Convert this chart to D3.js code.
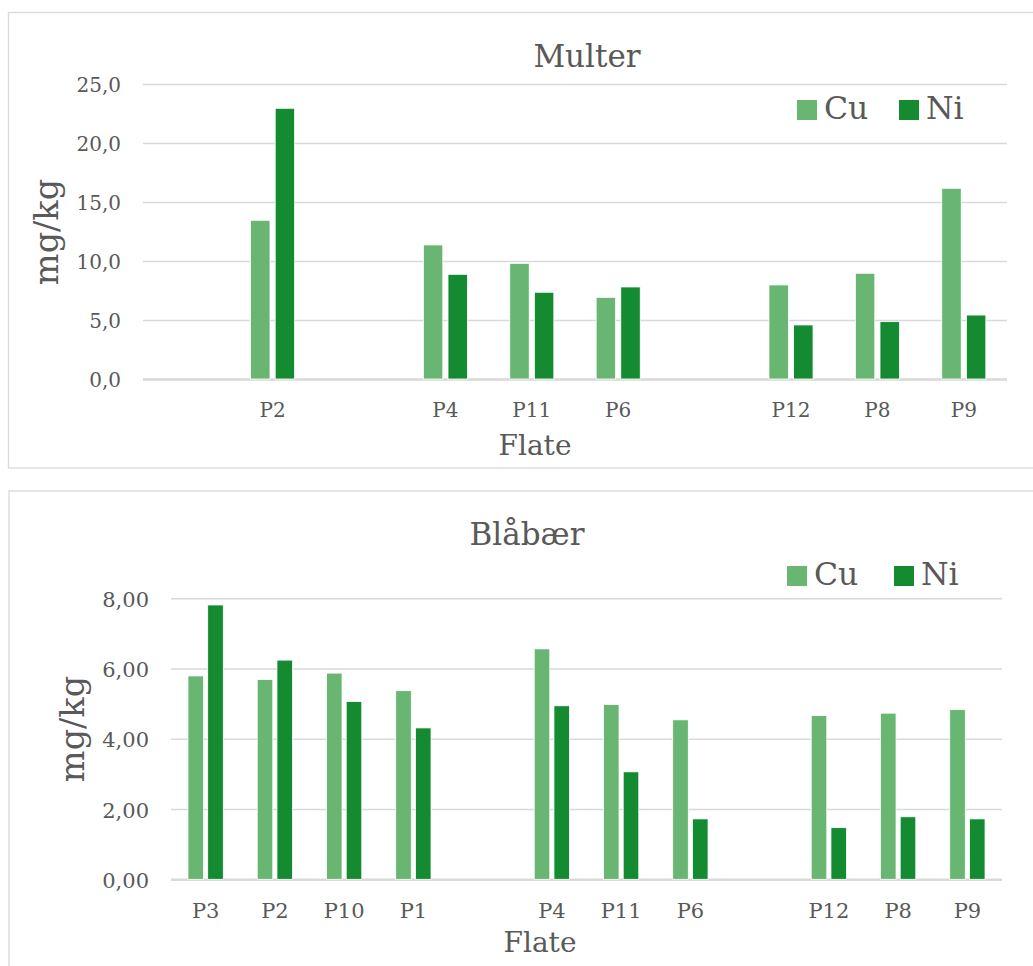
<!DOCTYPE html>
<html>
<head>
<meta charset="utf-8">
<script src="https://cdn.jsdelivr.net/npm/d3@7"></script>
<style>
  body { margin: 0; background: #fff; }
  text { font-family: "DejaVu Serif", Georgia, serif; fill: #595959; }
</style>
</head>
<body>
<div id="chart"></div>
<script>
// Multer (empty strings are the blank gap categories)
var multerCategories = ["", "P2", "", "P4", "P11", "P6", "", "P12", "P8", "P9"];
var multerCu = [null, 13.45, null, 11.36, 9.80, 6.92, null, 7.97, 8.96, 16.16];
var multerNi = [null, 22.94, null, 8.87, 7.35, 7.80, null, 4.58, 4.86, 5.42];
var multerTicks = [0, 5, 10, 15, 20, 25];

// Blåbær
var blabaerCategories = ["P3", "P2", "P10", "P1", "", "P4", "P11", "P6", "", "P12", "P8", "P9"];
var blabaerCu = [5.79, 5.69, 5.87, 5.37, null, 6.56, 4.98, 4.54, null, 4.66, 4.73, 4.83];
var blabaerNi = [7.81, 6.24, 5.06, 4.31, null, 4.94, 3.06, 1.72, null, 1.47, 1.78, 1.72];
var blabaerTicks = [0, 2, 4, 6, 8];

var seriesNames = ["Cu", "Ni"];
var colors = ["#69b673", "#148a31"];

var nb = d3.formatLocale({decimal: ",", thousands: " ", grouping: [3], currency: ["", " kr"]});

var svg = d3.select("#chart").append("svg")
    .attr("width", 1033)
    .attr("height", 966);

function drawChart(opt) {
    var g = svg.append("g");

    // outer frame
    g.append("rect")
        .attr("x", opt.frame[0]).attr("y", opt.frame[1])
        .attr("width", opt.frame[2]).attr("height", opt.frame[3])
        .attr("fill", "none").attr("stroke", "#d9d9d9").attr("stroke-width", 1.3);

    var x = d3.scaleBand().domain(d3.range(opt.categories.length)).range([opt.left, opt.right]);
    var y = d3.scaleLinear().domain([0, opt.yMax]).range([opt.bottom, opt.top]);

    // gridlines + y labels
    var yAxis = g.append("g")
        .attr("transform", "translate(" + opt.left + ",0)")
        .call(d3.axisLeft(y).tickValues(opt.ticks).tickSize(-(opt.right - opt.left))
            .tickPadding(22).tickFormat(nb.format(opt.fmt)));
    yAxis.select(".domain").remove();
    yAxis.selectAll(".tick line").attr("stroke", "#d9d9d9").attr("stroke-width", 1.5);
    yAxis.selectAll(".tick text").attr("font-size", opt.tickFont).attr("fill", "#595959")
        .attr("font-family", "DejaVu Serif").attr("dy", "0.38em");
    yAxis.selectAll(".tick").filter(function(d) { return d === 0; }).select("line")
        .attr("stroke-width", 2.5);

    // bars
    var bw = x.bandwidth() * 0.225, gap = x.bandwidth() * 0.06;
    [opt.cu, opt.ni].forEach(function(vals, si) {
        g.append("g").selectAll("rect")
            .data(vals.map(function(v, i) { return {i: i, v: v}; }).filter(function(d) { return d.v != null; }))
            .enter().append("rect")
            .attr("x", function(d) {
                var c = x(d.i) + x.bandwidth() / 2;
                return si === 0 ? c - gap / 2 - bw : c + gap / 2;
            })
            .attr("y", function(d) { return y(d.v); })
            .attr("width", bw)
            .attr("height", function(d) { return y(0) - y(d.v); })
            .attr("fill", colors[si])
            .attr("stroke", "#ffffff").attr("stroke-width", 0.8);
    });

    // x labels
    var xAxis = g.append("g")
        .attr("transform", "translate(0," + opt.bottom + ")")
        .call(d3.axisBottom(x).tickSize(0).tickPadding(24)
            .tickFormat(function(i) { return opt.categories[i]; }));
    xAxis.select(".domain").remove();
    xAxis.selectAll(".tick text").attr("font-size", opt.tickFont).attr("fill", "#595959")
        .attr("font-family", "DejaVu Serif");

    // titles
    g.append("text").attr("x", opt.titlePos[0]).attr("y", opt.titlePos[1])
        .attr("text-anchor", "middle").attr("font-size", 31).text(opt.title);
    g.append("text").attr("x", opt.xTitlePos[0]).attr("y", opt.xTitlePos[1])
        .attr("text-anchor", "middle").attr("font-size", 28).text("Flate");
    g.append("text")
        .attr("transform", "translate(" + opt.yTitlePos[0] + "," + opt.yTitlePos[1] + ") rotate(-90)")
        .attr("text-anchor", "middle").attr("font-size", 33.5).text("mg/kg");

    // legend
    var leg = g.append("g").selectAll("g").data(seriesNames).enter().append("g")
        .attr("transform", function(d, i) { return "translate(" + opt.legend[i] + "," + opt.legendY + ")"; });
    leg.append("rect").attr("width", 20).attr("height", 20)
        .attr("fill", function(d, i) { return colors[i]; });
    leg.append("text").attr("x", 27).attr("y", 19).attr("font-size", 31.5).text(function(d) { return d; });
}

drawChart({
    categories: multerCategories, cu: multerCu, ni: multerNi, ticks: multerTicks,
    yMax: 25, fmt: ".1f", title: "Multer", tickFont: 20,
    frame: [8.5, 12.5, 1040, 455.5],
    left: 143, right: 1007, top: 84, bottom: 379,
    titlePos: [587, 67], xTitlePos: [535, 455], yTitlePos: [58, 232],
    legend: [797, 899], legendY: 100
});

drawChart({
    categories: blabaerCategories, cu: blabaerCu, ni: blabaerNi, ticks: blabaerTicks,
    yMax: 8, fmt: ".2f", title: "Blåbær", tickFont: 21,
    frame: [9, 491, 1040, 500],
    left: 171, right: 1002, top: 598.3, bottom: 879.3,
    titlePos: [527, 545], xTitlePos: [540, 952], yTitlePos: [84, 729],
    legend: [787, 894], legendY: 566
});
</script>
</body>
</html>
